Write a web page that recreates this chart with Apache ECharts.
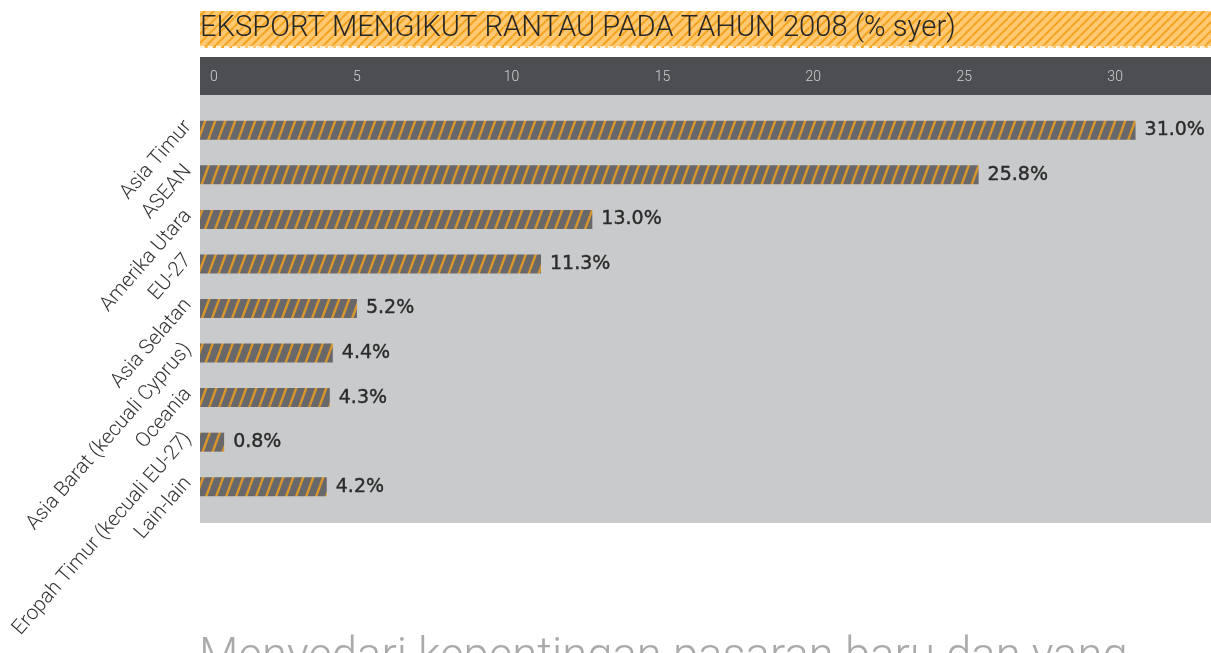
<!DOCTYPE html>
<html>
<head>
<meta charset="utf-8">
<script src="https://cdn.jsdelivr.net/npm/echarts@6/dist/echarts.min.js"></script>
<style>
  html, body { margin: 0; padding: 0; background: #ffffff; }
  #chart { width: 1211px; height: 653px; }
</style>
</head>
<body>
<div id="chart"></div>
<script>
// Data
var regions = [
    'Asia Timur',
    'ASEAN',
    'Amerika Utara',
    'EU-27',
    'Asia Selatan',
    'Asia Barat (kecuali Cyprus)',
    'Oceania',
    'Eropah Timur (kecuali EU-27)',
    'Lain-lain'
];
var shares = [31.0, 25.8, 13.0, 11.3, 5.2, 4.4, 4.3, 0.8, 4.2];
var titleText = 'EKSPORT MENGIKUT RANTAU PADA TAHUN 2008 (% syer)';
var footText = 'Menyedari kepentingan pasaran baru dan yang';

var FONT = 'Roboto, "DejaVu Sans", sans-serif';

// diagonal stripe pattern, one stripe per tile, seamless
function stripes(w, h, bg, fg, lw) {
    var c = document.createElement('canvas');
    c.width = w;
    c.height = h;
    var ctx = c.getContext('2d');
    ctx.fillStyle = bg;
    ctx.fillRect(0, 0, w, h);
    ctx.strokeStyle = fg;
    ctx.lineWidth = lw;
    for (var k = -1; k <= 1; k++) {
        ctx.beginPath();
        ctx.moveTo(k * w, h);
        ctx.lineTo(k * w + w, 0);
        ctx.stroke();
    }
    return c;
}

var titleFill = stripes(9, 9, '#ffc873', '#f5a420', 2);
var barFill = stripes(10, 27, '#68686b', '#d9962c', 2.4);

var chart = echarts.init(document.getElementById('chart'));

var option = {
    animation: false,
    backgroundColor: '#ffffff',
    graphic: [
        // title band
        {
            type: 'rect', z: 0,
            shape: {x: 200, y: 11, width: 1011, height: 37},
            style: {fill: {image: titleFill, repeat: 'repeat'}}
        },
        {
            type: 'line', z: 1,
            shape: {x1: 200, y1: 47, x2: 1211, y2: 47},
            style: {stroke: '#ffffff', lineWidth: 1.5, lineDash: [5, 3]}
        },
        {
            type: 'text', z: 2, left: 200, top: 14,
            style: {text: titleText, fill: '#262626', font: '300 29.2px ' + FONT}
        },
        // axis header band
        {
            type: 'rect', z: 0,
            shape: {x: 200, y: 57, width: 1011, height: 38},
            style: {fill: '#4d4e52'}
        },
        // plot background
        {
            type: 'rect', z: 0,
            shape: {x: 200, y: 95, width: 1011, height: 428},
            style: {fill: '#c9cacc'}
        },
        // text running below the chart
        {
            type: 'text', z: 2, left: 199, top: 636,
            style: {text: footText, fill: '#a9aaac', font: '300 45.5px ' + FONT}
        }
    ],
    grid: {
        left: 200, right: 0, top: 108, bottom: 144,
        outerBoundsMode: 'none'
    },
    xAxis: {
        type: 'value',
        position: 'top',
        min: 0,
        max: 33.5,
        interval: 5,
        axisLine: {show: false},
        axisTick: {show: false},
        splitLine: {show: false},
        axisLabel: {
            margin: 31,
            align: 'left',
            verticalAlign: 'middle',
            color: '#cfd0d2',
            fontFamily: FONT,
            fontWeight: 300,
            fontSize: 14,
            padding: [0, 0, 0, 2],
            showMaxLabel: false,
            formatter: function (v) {
                if (v % 5 !== 0) {
                    return '';
                }
                return v === 0 ? '{z|0}' : String(v);
            },
            rich: {
                z: {
                    padding: [0, 0, 0, 8],
                    color: '#cfd0d2',
                    fontFamily: FONT,
                    fontWeight: 300,
                    fontSize: 14
                }
            }
        }
    },
    yAxis: {
        type: 'category',
        inverse: true,
        data: regions,
        axisLine: {show: false},
        axisTick: {show: false},
        axisLabel: {
            rotate: 49,
            margin: 4,
            verticalAlign: 'bottom',
            color: '#333333',
            fontFamily: FONT,
            fontWeight: 300,
            fontSize: 20.5,
            interval: 0
        }
    },
    series: [
        {
            type: 'bar',
            data: shares,
            barWidth: 19,
            itemStyle: {
                color: {image: barFill, repeat: 'repeat'}
            },
            label: {
                show: true,
                position: 'right',
                distance: 9,
                color: '#2a2a2a',
                fontFamily: '"DejaVu Sans", sans-serif',
                fontSize: 19,
                textBorderColor: '#2a2a2a',
                textBorderWidth: 0.4,
                formatter: function (p) {
                    return p.value.toFixed(1) + '%';
                }
            }
        }
    ]
};

chart.setOption(option);
</script>
</body>
</html>
